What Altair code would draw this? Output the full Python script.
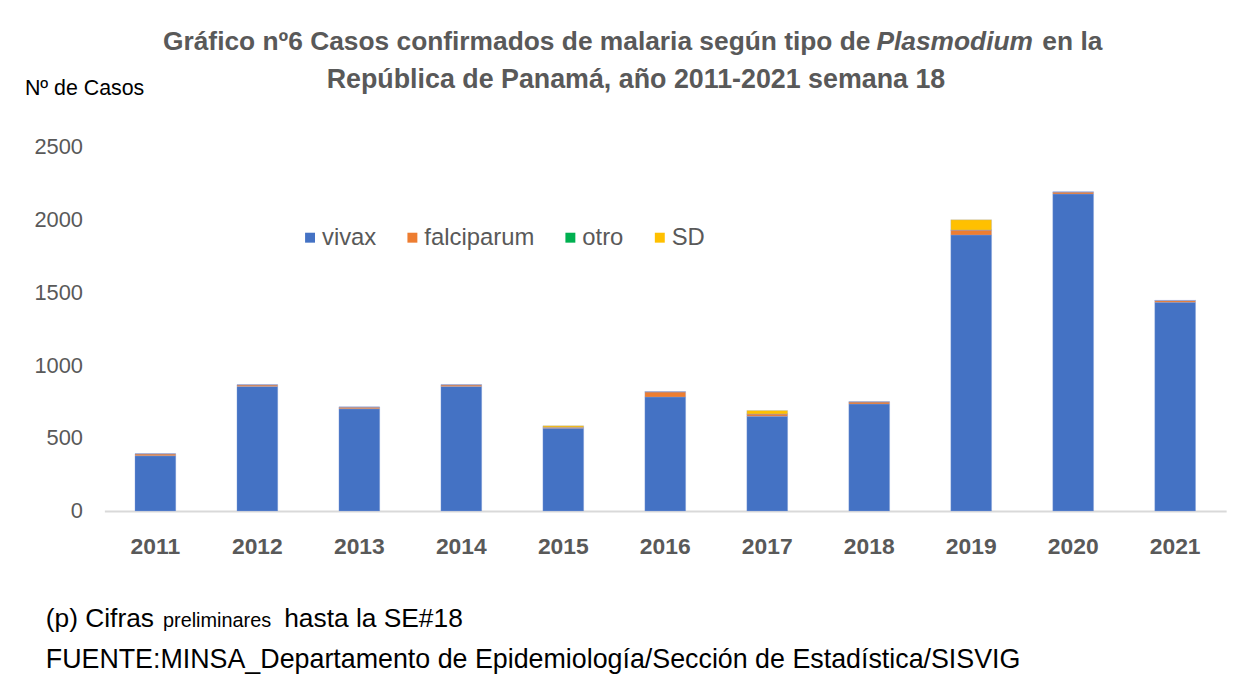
import altair as alt
import pandas as pd

years = ["2011", "2012", "2013", "2014", "2015", "2016", "2017", "2018", "2019", "2020", "2021"]
vivax = [378, 853, 700, 853, 567, 781, 649, 733, 1892, 2173, 1431]
falciparum = [14, 12, 12, 12, 7, 36, 16, 15, 34, 14, 12]
otro = [0, 0, 0, 0, 0, 0, 0, 0, 0, 0, 0]
sd = [0, 0, 0, 0, 10, 0, 23, 0, 70, 0, 0]
series = ["vivax", "falciparum", "otro", "SD"]
colors = ["#4472C4", "#ED7D31", "#00B050", "#FFC000"]
y_ticks = [0, 500, 1000, 1500, 2000, 2500]

rows = []
for i, yr in enumerate(years):
    for k, (name, vals) in enumerate(zip(series, [vivax, falciparum, otro, sd])):
        rows.append({"year": yr, "tipo": name, "casos": vals[i], "ord": k})
df = pd.DataFrame(rows)

FONT = "Liberation Sans, Arial, sans-serif"
GRAY = "#595959"

bars = alt.Chart(df).mark_bar(stroke="#8fa9dc", strokeWidth=0.6, strokeOpacity=0.5).encode(
    x=alt.X("year:N", sort=years, title=None,
            scale=alt.Scale(paddingInner=0.6, paddingOuter=0.3),
            axis=alt.Axis(labelAngle=0, labelFont=FONT, labelFontSize=23, labelFontWeight="bold",
                          labelColor=GRAY, labelPadding=25, ticks=False, domainColor="#d9d9d9",
                          domainWidth=2)),
    y=alt.Y("casos:Q", title=None, stack="zero",
            scale=alt.Scale(domain=[0, 2500], nice=False),
            axis=alt.Axis(values=y_ticks, format="d", grid=False, domain=False, ticks=False,
                          labelFont=FONT, labelFontSize=22, labelColor=GRAY, labelPadding=22)),
    color=alt.Color("tipo:N", sort=series,
                    scale=alt.Scale(domain=series, range=colors),
                    legend=alt.Legend(title=None, orient="none", legendX=195, legendY=80,
                                      direction="horizontal", symbolType="square", symbolSize=100,
                                      symbolStrokeWidth=0, labelFont=FONT, labelFontSize=24,
                                      labelColor=GRAY, columnPadding=24, labelOffset=0)),
    order=alt.Order("ord:Q"),
)

def txt(s, x, y, size=25, weight="normal", style="normal", color="#000000", align="left",
        baseline="middle"):
    return alt.Chart(pd.DataFrame({"t": [s]})).mark_text(
        font=FONT, fontSize=size, fontWeight=weight, fontStyle=style, color=color,
        align=align, baseline=baseline).encode(text="t:N", x=alt.value(x), y=alt.value(y))

texts = [
    txt("Gráfico nº6 Casos confirmados de malaria según tipo de", 59, -105, 26.5, "bold", color=GRAY),
    txt("Plasmodium", 777, -105, 26.5, "bold", "italic", color=GRAY),
    txt("en la", 944, -105, 26.5, "bold", color=GRAY),
    txt("República de Panamá, año 2011-2021 semana 18", 535, -67, 27, "bold", color=GRAY, align="center"),
    txt("Nº de Casos", -80, -58, 21.5),
    txt("(p) Cifras", -59, 484, 26.5, baseline="alphabetic"),
    txt("preliminares", 59, 484, 20, baseline="alphabetic"),
    txt("hasta la SE#18", 181, 484, 26.5, baseline="alphabetic"),
    txt("FUENTE:MINSA_Departamento de Epidemiología/Sección de Estadística/SISVIG", -59, 517, 27),
]

chart = alt.layer(bars, *texts).properties(
    width=1129, height=367,
    background="white",
    autosize=alt.AutoSizeParams(type="none"),
    padding={"left": 97, "top": 137, "right": 24, "bottom": 170},
).configure_view(strokeWidth=0, stroke=None)

chart.save("out.html", embed_options={"renderer": "svg", "actions": False})
